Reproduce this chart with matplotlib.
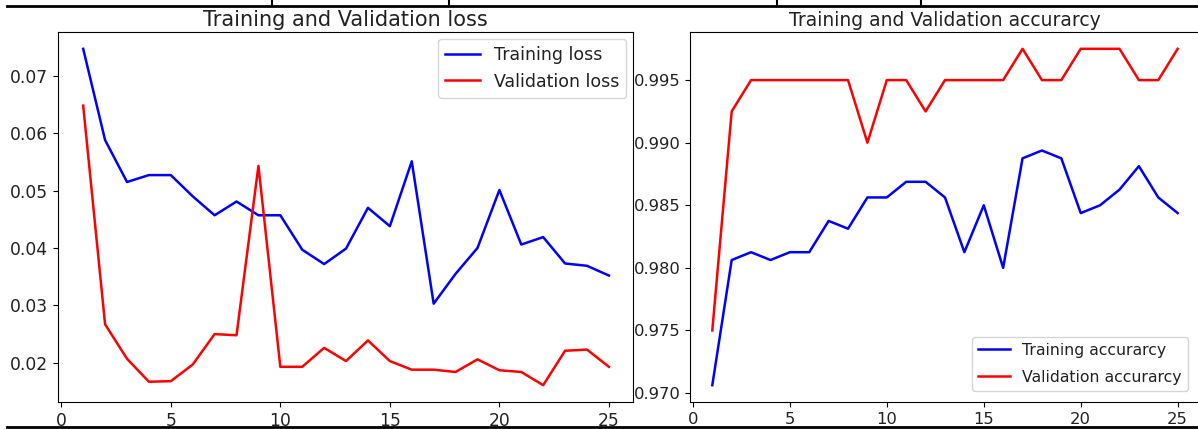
import matplotlib
matplotlib.use('Agg')
import matplotlib.pyplot as plt
from matplotlib.lines import Line2D

# エポックごとの値
epochs = list(range(1, 26))

train_loss = [0.0747, 0.0588, 0.0515, 0.0527, 0.0527, 0.0490, 0.0457, 0.0481, 0.0457, 0.0457,
              0.0397, 0.0372, 0.0399, 0.0470, 0.0438, 0.0551, 0.0303, 0.0355, 0.0400, 0.0501,
              0.0406, 0.0419, 0.0373, 0.0369, 0.0352]
val_loss = [0.0648, 0.0267, 0.0207, 0.0167, 0.0168, 0.0197, 0.0250, 0.0248, 0.0543, 0.0193,
            0.0193, 0.0226, 0.0203, 0.0239, 0.0203, 0.0188, 0.0188, 0.0184, 0.0206, 0.0187,
            0.0184, 0.0161, 0.0221, 0.0223, 0.0193]

train_acc = [0.970625, 0.980625, 0.98125, 0.980625, 0.98125, 0.98125, 0.98375, 0.983125, 0.985625, 0.985625,
             0.986875, 0.986875, 0.985625, 0.98125, 0.985, 0.98, 0.98875, 0.989375, 0.98875, 0.984375,
             0.985, 0.98625, 0.988125, 0.985625, 0.984375]
val_acc = [0.975, 0.9925, 0.995, 0.995, 0.995, 0.995, 0.995, 0.995, 0.990, 0.995,
           0.995, 0.9925, 0.995, 0.995, 0.995, 0.995, 0.9975, 0.995, 0.995, 0.9975,
           0.9975, 0.9975, 0.995, 0.995, 0.9975]

plt.rcParams['lines.linewidth'] = 1.8
plt.rcParams['text.color'] = '#222222'
plt.rcParams['xtick.labelcolor'] = '#222222'
plt.rcParams['ytick.labelcolor'] = '#222222'

W, H = 1198, 429
fig = plt.figure(figsize=(W / 100, H / 100), dpi=100)

# 左：ロス
ax1 = fig.add_axes([58 / W, 1 - 402 / H, (633 - 58) / W, (402 - 32) / H])
ax1.plot(epochs, train_loss, 'b', label='Training loss')
ax1.plot(epochs, val_loss, 'r', label='Validation loss')
ax1.set_xlim(-0.15, 26.1)
ax1.set_xticks([0, 5, 10, 15, 20, 25])
ax1.tick_params(labelsize=12.3)
ax1.set_title('Training and Validation loss', pad=4, fontsize=15)
ax1.legend(loc='upper right', borderaxespad=0.4, fontsize=12.5)

# 右：精度（元画像では横方向が少し縮んでいる）
ax2 = fig.add_axes([690 / W, 1 - 402 / H, (1199 - 690) / W, (402 - 32) / H])
ax2.plot(epochs, train_acc, 'b', label='Training accurarcy')
ax2.plot(epochs, val_acc, 'r', label='Validation accurarcy')
ax2.set_xlim(-0.15, 26.1)
ax2.set_xticks([0, 5, 10, 15, 20, 25])
ax2.tick_params(labelsize=11.8)
ax2.set_title('Training and Validation accurarcy', pad=4, fontsize=13.5)
ax2.legend(loc='lower right', borderaxespad=0.7, fontsize=11.3, labelspacing=0.75)

# スクリーンショットの表の罫線
top = 1 - 6 / H
bottom = 1 - 427 / H
fig.add_artist(Line2D([7 / W, 1], [top, top], color='black', lw=2))
fig.add_artist(Line2D([7 / W, 1], [bottom, bottom], color='black', lw=2))
for xv in [272, 449, 777, 921]:
    fig.add_artist(Line2D([xv / W, xv / W], [top, 1], color='black', lw=1.5))

fig.savefig('out.png', dpi=100)
